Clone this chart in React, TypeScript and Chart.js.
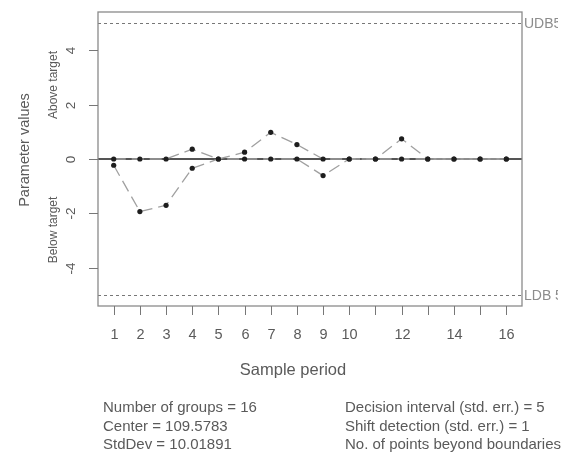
import React, { useEffect, useRef } from "react";
import { Chart, registerables } from "chart.js";

Chart.register(...registerables);

const periods = [1, 2, 3, 4, 5, 6, 7, 8, 9, 10, 11, 12, 13, 14, 15, 16];
const upperCusum = [0, 0, 0, 0.36, 0, 0.25, 0.98, 0.53, 0, 0, 0, 0.74, 0, 0, 0, 0];
const lowerCusum = [-0.23, -1.93, -1.7, -0.34, 0, 0, 0, 0, -0.61, 0, 0, 0, 0, 0, 0, 0];
const xTickLabels = ["1", "2", "3", "4", "5", "6", "7", "8", "9", "10", "", "12", "", "14", "", "16"];
const yTickValues = [-4, -2, 0, 2, 4];
const decisionInterval = 5;
const statsLeft = ["Number of groups = 16", "Center = 109.5783", "StdDev = 10.01891"];
const statsRight = ["Decision interval (std. err.) = 5", "Shift detection (std. err.) = 1", "No. of points beyond boundaries = 0"];

const FONT = "'Liberation Sans', Arial, sans-serif";
const TEXT = "#5a5a5a";

const decorPlugin = {
  id: "decor",
  beforeDatasetsDraw(chart: any) {
    const { ctx, chartArea: a, scales } = chart;
    const y = scales.y;
    ctx.save();
    ctx.strokeStyle = "#777";
    ctx.lineWidth = 1;
    ctx.setLineDash([3, 3]);
    [decisionInterval, -decisionInterval].forEach((v) => {
      const py = Math.round(y.getPixelForValue(v)) + 0.5;
      ctx.beginPath();
      ctx.moveTo(a.left, py);
      ctx.lineTo(a.right, py);
      ctx.stroke();
    });
    ctx.setLineDash([]);
    const cy = y.getPixelForValue(0);
    ctx.strokeStyle = "#555";
    ctx.lineWidth = 2.2;
    ctx.beginPath();
    ctx.moveTo(a.left, cy);
    ctx.lineTo(a.right, cy);
    ctx.stroke();
    ctx.restore();
  },
  afterDraw(chart: any) {
    const { ctx, chartArea: a, scales } = chart;
    const x = scales.x, y = scales.y;
    ctx.save();
    ctx.strokeStyle = "#8a8a8a";
    ctx.lineWidth = 1.3;
    ctx.strokeRect(a.left, a.top, a.right - a.left, a.bottom - a.top);
    ctx.strokeStyle = "#777";
    ctx.lineWidth = 1;
    ctx.fillStyle = TEXT;
    ctx.font = `14.5px ${FONT}`;
    ctx.textAlign = "center";
    ctx.textBaseline = "middle";
    periods.forEach((p, i) => {
      const px = Math.round(x.getPixelForValue(p)) + 0.5;
      ctx.beginPath();
      ctx.moveTo(px, a.bottom);
      ctx.lineTo(px, a.bottom + 9);
      ctx.stroke();
      if (xTickLabels[i]) ctx.fillText(xTickLabels[i], px, a.bottom + 29);
    });
    ctx.font = `13.5px ${FONT}`;
    yTickValues.forEach((v) => {
      const py = Math.round(y.getPixelForValue(v)) + 0.5;
      ctx.beginPath();
      ctx.moveTo(a.left - 9, py);
      ctx.lineTo(a.left, py);
      ctx.stroke();
      ctx.save();
      ctx.translate(a.left - 27, py);
      ctx.rotate(-Math.PI / 2);
      ctx.fillText(String(v), 0, 0);
      ctx.restore();
    });
    ctx.font = `12px ${FONT}`;
    ctx.save();
    ctx.translate(54, 85);
    ctx.rotate(-Math.PI / 2);
    ctx.fillText("Above target", 0, 0);
    ctx.restore();
    ctx.save();
    ctx.translate(54, 230);
    ctx.rotate(-Math.PI / 2);
    ctx.fillText("Below target", 0, 0);
    ctx.restore();
    ctx.font = `14.5px ${FONT}`;
    ctx.save();
    ctx.translate(25, 150);
    ctx.rotate(-Math.PI / 2);
    ctx.fillText("Parameter values", 0, 0);
    ctx.restore();
    ctx.font = `16.5px ${FONT}`;
    ctx.fillText("Sample period", 293, a.bottom + 64);
    ctx.save();
    ctx.beginPath();
    ctx.rect(a.right + 1, 0, 557 - a.right, chart.height);
    ctx.clip();
    ctx.fillStyle = "#8c8c8c";
    ctx.font = `14px ${FONT}`;
    ctx.textAlign = "left";
    ctx.fillText("UDB5", a.right + 2, y.getPixelForValue(decisionInterval) + 1);
    ctx.fillText("LDB 5", a.right + 2, y.getPixelForValue(-decisionInterval) + 1);
    ctx.restore();
    ctx.save();
    ctx.beginPath();
    ctx.rect(0, 380, 563, 80);
    ctx.clip();
    ctx.fillStyle = TEXT;
    ctx.font = `15px ${FONT}`;
    ctx.textAlign = "left";
    statsLeft.forEach((t, i) => ctx.fillText(t, 103, 408 + i * 18.5));
    statsRight.forEach((t, i) => ctx.fillText(t, 345, 408 + i * 18.5));
    ctx.restore();
    ctx.restore();
  },
};

export default function App() {
  const ref = useRef<HTMLCanvasElement>(null);
  useEffect(() => {
    if (!ref.current) return;
    const mk = (vals: number[]) => periods.map((p, i) => ({ x: p, y: vals[i] }));
    const ds = (vals: number[]) => ({
      data: mk(vals),
      borderColor: "#a0a0a0",
      borderWidth: 1.3,
      borderDash: [12, 6],
      pointRadius: 2.6,
      pointBackgroundColor: "#1e1e1e",
      pointBorderColor: "#1e1e1e",
      pointBorderWidth: 0,
      tension: 0,
    });
    const chart = new Chart(ref.current, {
      type: "line",
      data: { datasets: [ds(upperCusum), ds(lowerCusum)] },
      options: {
        animation: false,
        responsive: false,
        maintainAspectRatio: false,
        layout: { padding: { left: 98, right: 46, top: 12, bottom: 147 } },
        plugins: { legend: { display: false }, tooltip: { enabled: false } },
        scales: {
          x: { type: "linear", min: 0.4, max: 16.6, display: false },
          y: { type: "linear", min: -5.4, max: 5.4, display: false },
        },
      },
      plugins: [decorPlugin],
    });
    return () => chart.destroy();
  }, []);
  return (
    <div style={{ position: "fixed", left: 0, top: 0, width: 568, height: 453, background: "#fff" }}>
      <canvas ref={ref} width={568} height={453} style={{ width: 568, height: 453 }} />
    </div>
  );
}
